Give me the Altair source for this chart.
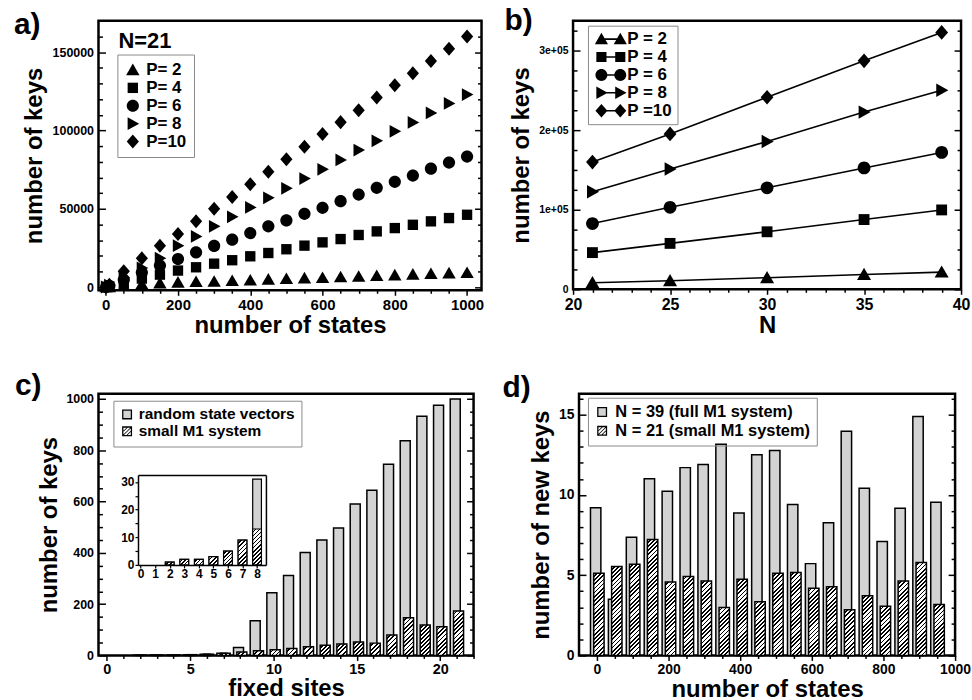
import altair as alt
import pandas as pd

FONT = "Liberation Sans"
GRAY = "#d3d3d3"

# ---------------- panel a data ----------------
a_states = [1, 10, 50, 100, 150, 200, 250, 300, 350, 400, 450, 500, 550, 600, 650, 700, 750, 800, 850, 900, 950, 1000]
a_p2 = [10, 90, 900, 1800, 2500, 3000, 3400, 3600, 4000, 4400, 4900, 5300, 5700, 5900, 6400, 6800, 7200, 7600, 8100, 8500, 8900, 9100]
a_p4 = [45, 460, 2800, 5500, 8000, 10600, 12700, 15000, 17200, 19700, 21800, 24200, 26500, 28600, 30700, 33300, 35600, 37700, 39800, 42000, 44100, 46200]
a_p6 = [83, 830, 4700, 9300, 13800, 18000, 22200, 26300, 30300, 34500, 38800, 42600, 46800, 50600, 54900, 59100, 63400, 67200, 71200, 75600, 79500, 83300]
a_p8 = [123, 1230, 6200, 12300, 18500, 26500, 32400, 38800, 44900, 50900, 57000, 63100, 69300, 75200, 81200, 87500, 93400, 99400, 105100, 111200, 117200, 122900]
a_p10 = [160, 1600, 10200, 18400, 26500, 33900, 42000, 50000, 57600, 65700, 73700, 81600, 89600, 97700, 105300, 112900, 121000, 128800, 136500, 144300, 152100, 160000]
a_labels = ["P= 2", "P= 4", "P= 6", "P= 8", "P=10"]

# ---------------- panel b data ----------------
b_N = [21, 25, 30, 35, 39]
b_p2 = [8300, 10800, 14600, 18700, 21600]
b_p4 = [46200, 57800, 72400, 87800, 99900]
b_p6 = [82800, 103200, 127700, 152700, 172200]
b_p8 = [122700, 151400, 186000, 223000, 250400]
b_p10 = [160100, 195500, 241700, 287500, 323300]
b_labels = ["P = 2", "P = 4", "P = 6", "P = 8", "P =10"]

# ---------------- panel c data ----------------
c_sites = [0, 1, 2, 3, 4, 5, 6, 7, 8, 9, 10, 11, 12, 13, 14, 15, 16, 17, 18, 19, 20, 21]
c_random = [0, 0, 1, 2, 2, 3, 5, 9, 31, 135, 244, 312, 401, 450, 497, 590, 644, 745, 837, 932, 975, 1000]
c_small = [0, 0, 1, 2, 2, 3, 5, 9, 13, 18, 22, 27, 34, 40, 45, 52, 48, 80, 147, 119, 112, 173]
c_labels = ["random state vectors", "small M1 system"]

# ---------------- panel d data ----------------
d_states = [0, 50, 100, 150, 200, 250, 300, 350, 400, 450, 500, 550, 600, 650, 700, 750, 800, 850, 900, 950]
d_full = [9.2, 3.5, 7.36, 11.0, 10.23, 11.7, 11.9, 13.16, 8.88, 12.5, 12.77, 9.4, 5.72, 8.26, 13.97, 10.41, 7.1, 9.17, 14.88, 9.55]
d_small = [5.12, 5.54, 5.68, 7.23, 4.57, 4.92, 4.63, 2.98, 4.75, 3.35, 5.12, 5.17, 4.19, 4.28, 2.85, 3.72, 3.06, 4.63, 5.79, 3.18]
d_labels = ["N = 39 (full M1 system)", "N = 21 (small M1 system)"]

# ---------------- layout ----------------
WA, HA = 385, 271
WB, HB = 390, 270
WC, HC = 377, 263
WD, HD = 378, 263
C_YMAX = 1020
D_YMAX = 16.3
INSET = dict(x0=39.7, x1=168.3, y0=172.0, y1=81.7)
I_XDOM = [-0.18, 8.61]
I_YDOM = [0, 32.5]

MARKER_PTS = {
    "tri_up": [(0, -1.05), (1.1, 0.85), (-1.1, 0.85)],
    "square": [(-0.85, -0.85), (0.85, -0.85), (0.85, 0.85), (-0.85, 0.85)],
    "tri_right": [(-0.85, -1.05), (1.05, 0), (-0.85, 1.05)],
    "diamond": [(0, -1.15), (1.0, 0), (0, 1.15), (-1.0, 0)],
}
KINDS = ["tri_up", "square", "circle", "tri_right", "diamond"]


def marker(kind, cx=0.0):
    if kind == "circle":
        return f"M{cx+1:.3f},0A1,1,0,1,1,{cx-1:.3f},0A1,1,0,1,1,{cx+1:.3f},0Z"
    return "M" + "L".join(f"{cx+x:.3f},{y:.3f}" for x, y in MARKER_PTS[kind]) + "Z"


def combo(kind, d=1.58):
    line = f"M{-d},-0.13L{d},-0.13L{d},0.13L{-d},0.13Z"
    return line + marker(kind, -d) + marker(kind, d)


def poly(pts):
    return "M" + "L".join(f"{x:.3f},{y:.3f}" for x, y in pts) + "Z"


# legend symbols built from filled shapes only: a square ring, and a ring with hatch stripes
RING_SYM = poly([(-1, -1), (1, -1), (1, 1), (-1, 1)]) + poly([(-0.74, -0.74), (-0.74, 0.74), (0.74, 0.74), (0.74, -0.74)])
STRIPES = [((-0.74, 0.0), (0.0, -0.74)), ((-0.74, 0.74), (0.74, -0.74)), ((0.0, 0.74), (0.74, 0.0))]
HATCH_SYM = RING_SYM + "".join(
    poly([(p[0] - 0.11, p[1]), (q[0] - 0.11, q[1]), (q[0] + 0.11, q[1]), (p[0] + 0.11, p[1])]) for p, q in STRIPES
)
INNER_SYM = poly([(-0.8, -0.8), (0.8, -0.8), (0.8, 0.8), (-0.8, 0.8)])


def hatch(w, h, period=4.2, frac=0.42):
    n = max(1, int(round((w + h) / period)))
    t = (w + h) / (w * w + h * h)
    stops = []
    for i in range(n):
        a = round(i / n, 5)
        b = round((i + 1 - frac) / n, 5)
        c = round((i + 1) / n, 5)
        stops += [{"offset": a, "color": "white"}, {"offset": b, "color": "white"},
                  {"offset": b, "color": "black"}, {"offset": c, "color": "black"}]
    return {"gradient": "linear", "x1": 0, "y1": 0, "x2": round(t * w, 5), "y2": round(t * h, 5), "stops": stops}


def cond(test, major, minor):
    return {"condition": {"test": test, "value": major}, "value": minor}


def x_axis(values, test, fs, title, fmt="d"):
    return alt.Axis(orient="bottom", values=values, format=fmt,
                    labelExpr=f"({test}) ? datum.label : ''",
                    tickSize=cond(test, 5, 3), tickWidth=1.5, labelFontSize=fs,
                    labelPadding=2, labelOverlap=False, labelFlush=False,
                    title=title, titleFontSize=24, titlePadding=1, domain=False, grid=False)


def y_label_axis(values, fs, title, tpad, fmt="d", expr=None):
    kw = dict(orient="left", values=values, format=fmt, ticks=False, domain=False, grid=False,
              labelFontSize=fs, labelPadding=5, labelOverlap=False, labelFlush=False,
              title=title, titleFontSize=24, titlePadding=tpad)
    if expr:
        kw["labelExpr"] = expr
    return alt.Axis(**kw)


def y_tick_axis(values, test, W, side):
    return alt.Axis(orient="right" if side == "left" else "left", offset=-W, values=values,
                    labels=False, domain=False, grid=False, title=None,
                    tickSize=cond(test, 7, 4), tickWidth=1.5)


def helper(df, xf, yf, xs, ys, yaxis):
    return alt.Chart(df).mark_point(opacity=0).encode(
        x=alt.X(xf, type="quantitative", scale=xs, axis=None),
        y=alt.Y(yf, type="quantitative", scale=ys, axis=yaxis))


def y_axes(df, xf, yf, xs, ys, W, label_axis, tick_vals, test):
    return [helper(df, xf, yf, xs, ys, label_axis),
            helper(df, xf, yf, xs, ys, y_tick_axis(tick_vals, test, W, "left")),
            helper(df, xf, yf, xs, ys, y_tick_axis(tick_vals, test, W, "right"))]


def text_mark(txt, x, y, size):
    return alt.Chart(pd.DataFrame({"t": [txt]})).mark_text(
        align="left", baseline="alphabetic", font=FONT, fontWeight="bold",
        fontSize=size, color="black").encode(text="t:N", x=alt.value(x), y=alt.value(y))


def legend(x, y, fs, size, pad, row_pad, label_offset, symbol_offset=0,
           fill="white", stroke="#8a8a8a", label_opacity=1, symbol_type=None):
    kw = dict(title=None, orient="none", legendX=x, legendY=y, direction="vertical",
              fillColor=fill, strokeColor=stroke, padding=pad,
              cornerRadius=0, symbolSize=size, symbolOpacity=1,
              symbolStrokeWidth=0, symbolOffset=symbol_offset, labelOffset=label_offset,
              labelFontSize=fs, labelFont=FONT, labelFontWeight="bold",
              labelColor="black", labelOpacity=label_opacity, labelLimit=400, rowPadding=row_pad)
    if symbol_type:
        kw["symbolType"] = symbol_type
    return alt.Legend(**kw)


def bar_legend_layers(labels, x, y, fs, pad, row_pad, label_offset):
    """Two stacked legends: black outline/hatch symbols with labels, and the grey fill underneath.
    The fill legend uses distinct (space-suffixed, hidden) labels so the two legends are not merged."""
    fill_labels = [lab + " " for lab in labels]
    df = pd.DataFrame({"series": labels, "series_b": fill_labels})
    filling = alt.Chart(df).mark_point(filled=True, size=100, shape=INNER_SYM, opacity=0).encode(
        fill=alt.Fill("series_b:N", scale=alt.Scale(domain=fill_labels, range=[GRAY, "transparent"]),
                      legend=legend(x, y, fs, 100, pad, row_pad, label_offset, fill="transparent",
                                    stroke="transparent", label_opacity=0, symbol_type=INNER_SYM)))
    outline = alt.Chart(df).mark_point(filled=True, size=100, color="black", opacity=0).encode(
        shape=alt.Shape("series:N", scale=alt.Scale(domain=labels, range=[RING_SYM, HATCH_SYM]),
                        legend=legend(x, y, fs, 100, pad, row_pad, label_offset, fill="transparent")))
    return [filling, outline]


# ================= panel a =================
a_df = pd.DataFrame({
    "states": a_states * 5,
    "keys": a_p2 + a_p4 + a_p6 + a_p8 + a_p10,
    "P": sum([[lab] * len(a_states) for lab in a_labels], []),
})
xs_a = alt.Scale(domain=[-20, 1040], nice=False, zero=False)
ys_a = alt.Scale(domain=[-2000, 170000], nice=False, zero=False)

a_points = alt.Chart(a_df).mark_point(filled=True, size=150, color="black", opacity=1).encode(
    x=alt.X("states:Q", scale=xs_a,
            axis=x_axis(list(range(0, 1001, 50)), "datum.value % 200 === 0", 15, "number of states")),
    y=alt.Y("keys:Q", scale=ys_a, axis=None),
    shape=alt.Shape("P:N", scale=alt.Scale(domain=a_labels, range=[marker(k) for k in KINDS]),
                    legend=legend(19, 34, 17, 150, 7, 0, 5)),
)
panel_a = alt.layer(
    a_points,
    *y_axes(a_df, "states", "keys", xs_a, ys_a, WA,
            y_label_axis([0, 50000, 100000, 150000], 12.5, "number of keys", 6),
            list(range(0, 160001, 10000)), "datum.value % 50000 === 0"),
    text_mark("N=21", 20, 27, 22),
    text_mark("a)", -85, 13, 30),
).resolve_axis(x="independent", y="independent").properties(width=WA, height=HA)

# ================= panel b =================
b_df = pd.DataFrame({
    "N": b_N * 5,
    "keys": b_p2 + b_p4 + b_p6 + b_p8 + b_p10,
    "P": sum([[lab] * len(b_N) for lab in b_labels], []),
})
xs_b = alt.Scale(domain=[20, 40], nice=False, zero=False)
ys_b = alt.Scale(domain=[0, 338000], nice=False, zero=False)

b_lines = alt.Chart(b_df).mark_line(color="black", strokeWidth=1.6).encode(
    x=alt.X("N:Q", scale=xs_b,
            axis=x_axis(list(range(20, 41)), "datum.value % 5 === 0", 16, "N")),
    y=alt.Y("keys:Q", scale=ys_b, axis=None),
    detail="P:N",
)
b_points = alt.Chart(b_df).mark_point(filled=True, size=165, color="black", opacity=1).encode(
    x=alt.X("N:Q", scale=xs_b, axis=None),
    y=alt.Y("keys:Q", scale=ys_b, axis=None),
    shape=alt.Shape("P:N", scale=alt.Scale(domain=b_labels, range=[marker(k) for k in KINDS]), legend=None),
)
b_leg = alt.Chart(b_df).mark_point(filled=True, size=144, color="black", opacity=0).encode(
    shape=alt.Shape("P:N", scale=alt.Scale(domain=b_labels, range=[combo(k) for k in KINDS]),
                    legend=legend(15, 5, 17, 144, 5, 0, 8, symbol_offset=9.5)),
)
panel_b = alt.layer(
    b_lines, b_points, b_leg,
    *y_axes(b_df, "N", "keys", xs_b, ys_b, WB,
            y_label_axis([0, 100000, 200000, 300000], 10.5, "number of keys", 5,
                         expr="datum.value == 0 ? '0' : (datum.value / 100000) + 'e+05'"),
            list(range(0, 325001, 25000)), "datum.value % 100000 === 0"),
    text_mark("b)", -69, 9, 30),
).resolve_scale(shape="independent").resolve_axis(x="independent", y="independent").properties(width=WB, height=HB)

# ================= panel c =================
c_df = pd.DataFrame({"site": c_sites, "rnd": c_random, "small": c_small})
xs_c = alt.Scale(domain=[-0.5, 22], nice=False, zero=False)
ys_c = alt.Scale(domain=[0, C_YMAX], nice=False, zero=False)
WPX_C = 0.6 * WC / 22.5

c_gray = alt.Chart(c_df).transform_filter("datum.rnd > 0").transform_calculate(
    x0="datum.site - 0.4", x1="datum.site + 0.2"
).mark_rect(fill=GRAY, stroke="black", strokeWidth=1.5).encode(
    x=alt.X("x0:Q", scale=xs_c, axis=x_axis(list(range(0, 23)), "datum.value % 5 === 0", 14.5, "fixed sites")),
    x2="x1:Q",
    y=alt.Y("rnd:Q", scale=ys_c, axis=None),
    y2=alt.datum(0),
)
c_hatched = []
for s, v in zip(c_sites, c_small):
    if v <= 0:
        continue
    c_hatched.append(
        alt.Chart(c_df).transform_filter(f"datum.site === {s}").transform_calculate(
            x0="datum.site - 0.2", x1="datum.site + 0.4"
        ).mark_rect(fill=hatch(WPX_C, v * HC / C_YMAX), stroke="black", strokeWidth=1.5).encode(
            x=alt.X("x0:Q", scale=xs_c, axis=None), x2="x1:Q",
            y=alt.Y("small:Q", scale=ys_c, axis=None), y2=alt.datum(0))
    )
c_main = alt.layer(
    c_gray, *c_hatched,
    *bar_legend_layers(c_labels, 15, 7, 15.5, 6, 0, 4),
    *y_axes(c_df, "site", "rnd", xs_c, ys_c, WC,
            y_label_axis([0, 200, 400, 600, 800, 1000], 12.5, "number of keys", 4),
            list(range(0, 1001, 50)), "datum.value % 200 === 0"),
    text_mark("c)", -84, 1, 30),
).resolve_axis(x="independent", y="independent")

# inset (only the first sites are shown in it)
xs_i = alt.Scale(domain=I_XDOM, range=[INSET["x0"], INSET["x1"]], nice=False, zero=False)
ys_i = alt.Scale(domain=I_YDOM, range=[INSET["y0"], INSET["y1"]], nice=False, zero=False)
WPX_I = 0.6 * (INSET["x1"] - INSET["x0"]) / (I_XDOM[1] - I_XDOM[0])
HPX_I = (INSET["y0"] - INSET["y1"]) / (I_YDOM[1] - I_YDOM[0])

i_gray = alt.Chart(c_df).transform_filter("datum.site <= 8 && datum.rnd > 0").transform_calculate(
    x0="datum.site - 0.3", x1="datum.site + 0.3"
).mark_rect(fill=GRAY, stroke="black", strokeWidth=1.2).encode(
    x=alt.X("x0:Q", scale=xs_i, axis=alt.Axis(
        orient="bottom", offset=-(HC - INSET["y0"]), values=list(range(0, 9)), format="d",
        domain=True, domainColor="black", domainWidth=1.5, tickSize=3, tickWidth=1.2,
        labelFontSize=12, labelPadding=1, labelOverlap=False, labelFlush=False, title=None, grid=False)),
    x2="x1:Q",
    y=alt.Y("rnd:Q", scale=ys_i, axis=alt.Axis(
        orient="left", offset=-INSET["x0"], values=[0, 5, 10, 15, 20, 25, 30], format="d",
        labelExpr="datum.value % 10 === 0 ? datum.label : ''",
        domain=True, domainColor="black", domainWidth=1.5, tickSize=3, tickWidth=1.2,
        labelFontSize=12, labelPadding=1, labelOverlap=False, labelFlush=False, title=None, grid=False)),
    y2=alt.datum(0),
)
i_hatched = []
for s, v in zip(c_sites, c_small):
    if s > 8 or v <= 0:
        continue
    i_hatched.append(
        alt.Chart(c_df).transform_filter(f"datum.site === {s}").transform_calculate(
            x0="datum.site - 0.3", x1="datum.site + 0.3"
        ).mark_rect(fill=hatch(WPX_I, v * HPX_I, period=4.0), stroke="black", strokeWidth=1.2).encode(
            x=alt.X("x0:Q", scale=xs_i, axis=None), x2="x1:Q",
            y=alt.Y("small:Q", scale=ys_i, axis=None), y2=alt.datum(0))
    )
i_frame = alt.Chart(c_df).transform_filter("datum.site <= 8").mark_point(opacity=0).encode(
    x=alt.X("site:Q", scale=xs_i, axis=alt.Axis(
        orient="top", offset=-INSET["y1"], domain=True, domainColor="black", domainWidth=1.5,
        ticks=False, labels=False, title=None, grid=False)),
    y=alt.Y("small:Q", scale=ys_i, axis=alt.Axis(
        orient="right", offset=-(WC - INSET["x1"]), domain=True, domainColor="black", domainWidth=1.5,
        ticks=False, labels=False, title=None, grid=False)),
)
c_inset = alt.layer(i_gray, *i_hatched, i_frame).resolve_axis(x="independent", y="independent")

panel_c = alt.layer(c_main, c_inset).resolve_scale(x="independent", y="independent").properties(width=WC, height=HC)

# ================= panel d =================
d_df = pd.DataFrame({"states": d_states, "full": d_full, "small": d_small})
xs_d = alt.Scale(domain=[-50, 1000], nice=False, zero=False)
ys_d = alt.Scale(domain=[0, D_YMAX], nice=False, zero=False)
WPX_D = 29 * WD / 1050

d_gray = alt.Chart(d_df).transform_calculate(
    x0="datum.states - 18", x1="datum.states + 11"
).mark_rect(fill=GRAY, stroke="black", strokeWidth=1.5).encode(
    x=alt.X("x0:Q", scale=xs_d, axis=x_axis(list(range(0, 1001, 50)), "datum.value % 200 === 0", 14, "number of states")),
    x2="x1:Q",
    y=alt.Y("full:Q", scale=ys_d, axis=None),
    y2=alt.datum(0),
)
d_hatched = []
for s, v in zip(d_states, d_small):
    d_hatched.append(
        alt.Chart(d_df).transform_filter(f"datum.states === {s}").transform_calculate(
            x0="datum.states - 9", x1="datum.states + 20"
        ).mark_rect(fill=hatch(WPX_D, v * HD / D_YMAX), stroke="black", strokeWidth=1.5).encode(
            x=alt.X("x0:Q", scale=xs_d, axis=None), x2="x1:Q",
            y=alt.Y("small:Q", scale=ys_d, axis=None), y2=alt.datum(0))
    )
panel_d = alt.layer(
    d_gray, *d_hatched,
    *bar_legend_layers(d_labels, 9, 4, 16.5, 6, 2, 5),
    *y_axes(d_df, "states", "full", xs_d, ys_d, WD,
            y_label_axis([0, 5, 10, 15], 14, "number of new keys", 5),
            list(range(0, 17)), "datum.value % 5 === 0"),
    text_mark("d)", -77, 3, 30),
).resolve_axis(x="independent", y="independent").properties(width=WD, height=HD)

# ================= assemble =================
IND = dict(shape="independent", fill="independent")
row1 = alt.hconcat(panel_a, panel_b, spacing=17).resolve_scale(**IND)
row2 = alt.hconcat(panel_c, panel_d, spacing=25).resolve_scale(**IND)
chart = alt.vconcat(row1, row2, spacing=30).resolve_scale(**IND).properties(
    padding={"left": 12, "top": 2, "right": 0, "bottom": 0},
    background="white",
).configure(font=FONT).configure_view(
    stroke="black", strokeWidth=2.5
).configure_axis(
    labelFont=FONT, titleFont=FONT, labelFontWeight="bold", titleFontWeight="bold",
    labelColor="black", titleColor="black", tickColor="black", grid=False, domain=False,
).configure_legend(strokeWidth=1)

chart.save("out.html", embed_options={"renderer": "svg", "actions": False})
